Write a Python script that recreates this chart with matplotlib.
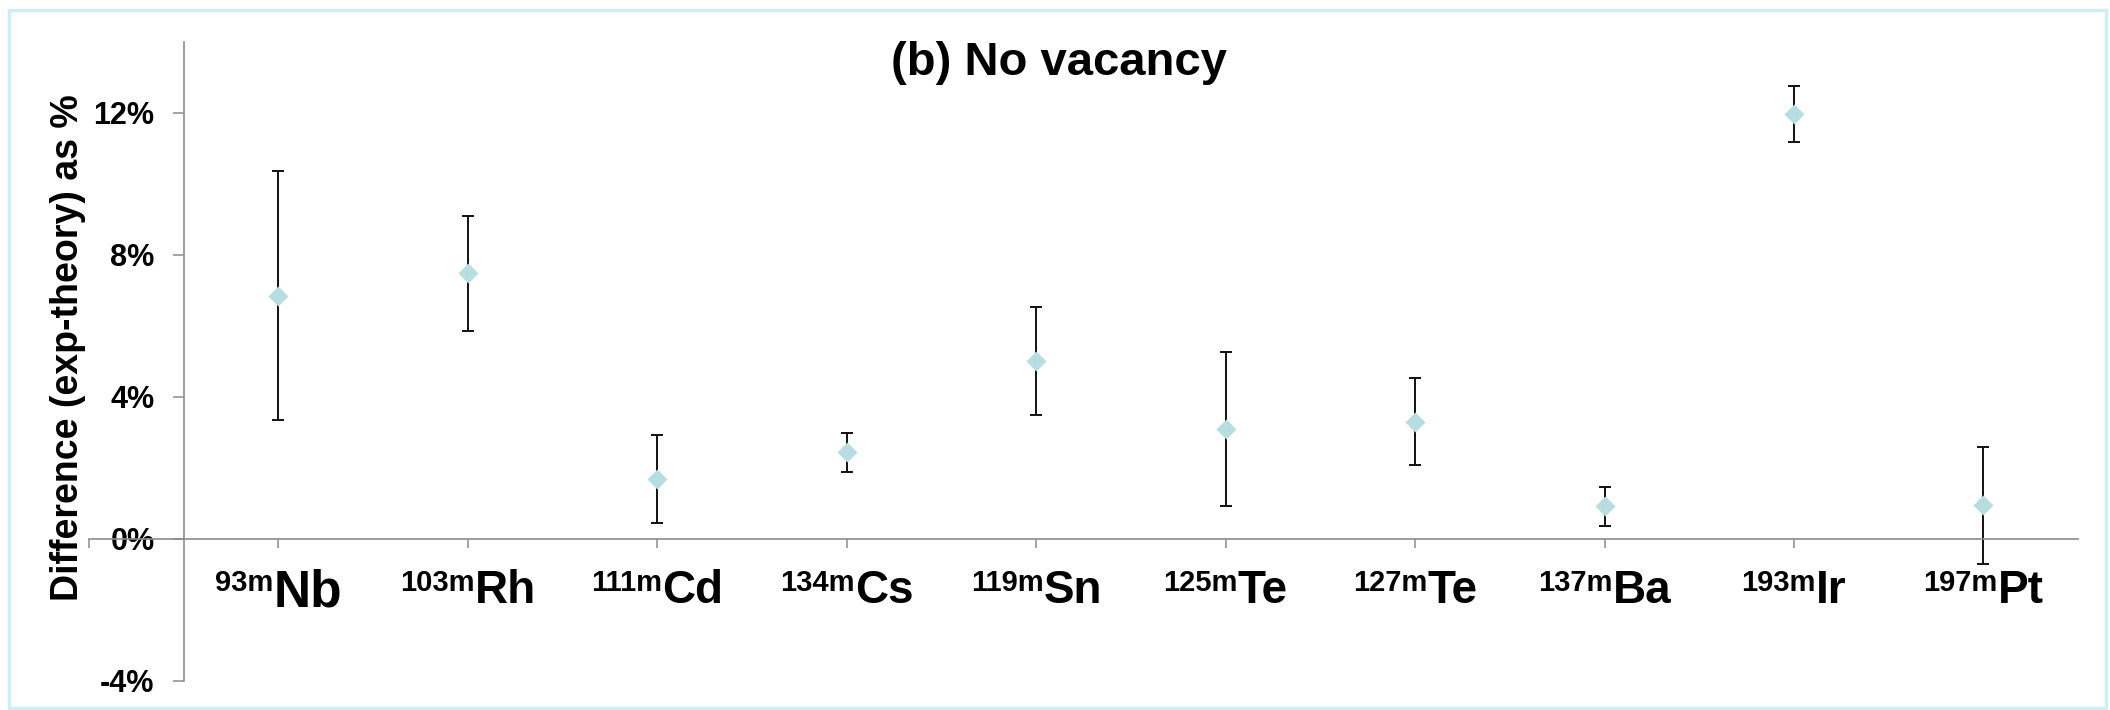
import matplotlib
matplotlib.use("Agg")
import matplotlib.pyplot as plt
from matplotlib.offsetbox import TextArea, HPacker, AnnotationBbox
from matplotlib.patches import Rectangle

plt.rcParams['font.family'] = ['Liberation Sans', 'DejaVu Sans']
plt.rcParams['font.weight'] = 'bold'

# isotopes on the x axis (mass number as superscript + element)
mass = ["93m", "103m", "111m", "134m", "119m", "125m", "127m", "137m", "193m", "197m"]
element = ["Nb", "Rh", "Cd", "Cs", "Sn", "Te", "Te", "Ba", "Ir", "Pt"]

# difference (exp-theory) in % and its error bar
diff = [6.85, 7.47, 1.68, 2.43, 5.00, 3.08, 3.30, 0.91, 11.97, 0.94]
err = [3.52, 1.62, 1.24, 0.54, 1.53, 2.17, 1.23, 0.54, 0.79, 1.65]

yticks = [-4, 0, 4, 8, 12]

x = list(range(1, len(diff) + 1))

fig = plt.figure(figsize=(21.1, 7.1), dpi=100)
ax = fig.add_axes([0.0422, 0.0413, 0.9427, 0.900])

# error bars under the diamonds
ax.errorbar(x, diff, yerr=err, fmt='none', ecolor='#111111',
            elinewidth=1.4, capsize=4.2, capthick=1.4, zorder=2)
ax.plot(x, diff, 'D', color='#b7dde1', ms=10.5, mec='none', zorder=3)

ax.set_xlim(0, 10.5)
ax.set_ylim(-4, 14)

# excel style axes: y axis between first category and left edge, x axis at 0
for s in ['top', 'right']:
    ax.spines[s].set_visible(False)
ax.spines['left'].set_position(('data', 0.5))
ax.spines['bottom'].set_position(('data', 0))
for s in ['left', 'bottom']:
    ax.spines[s].set_color('#8c8c8c')
    ax.spines[s].set_linewidth(1.2)

ax.set_yticks(yticks)
ax.set_yticklabels([f"{v}%" for v in yticks])
ax.tick_params(axis='y', direction='out', length=8, width=1.1, color='#8c8c8c',
               labelsize=22, pad=13)
ax.set_xticks(range(0, 11))
ax.set_xticklabels([])
ax.tick_params(axis='x', direction='out', length=6.5, width=1.1, color='#8c8c8c')

# category labels: small mass number + big element symbol
for i, (m, el) in enumerate(zip(mass, element)):
    size = 37 if i == 0 else 33
    sup = TextArea(m, textprops=dict(fontsize=21, fontweight='bold'))
    big = TextArea(el, textprops=dict(fontsize=size, fontweight='bold'))
    box = HPacker(children=[sup, big], align='top', pad=0, sep=0)
    ab = AnnotationBbox(box, (x[i], 0), xybox=(0, -21.5), xycoords='data',
                        boxcoords='offset points', box_alignment=(0.5, 1),
                        frameon=False, annotation_clip=False)
    ax.add_artist(ab)

fig.text(0.502, 0.894, "(b) No vacancy", ha='center', va='baseline',
         fontsize=34, fontweight='bold')
fig.text(0.032, 0.511, "Difference (exp-theory) as %", rotation=90,
         ha='center', va='center', fontsize=27, fontweight='bold')

# light cyan frame around the chart
fig.patches.append(Rectangle((9 / 2110, 2 / 710), 2097 / 2110, 698 / 710,
                             transform=fig.transFigure, fill=False,
                             ec='#cdeff3', lw=2.5))

fig.savefig('out.png', dpi=100)
